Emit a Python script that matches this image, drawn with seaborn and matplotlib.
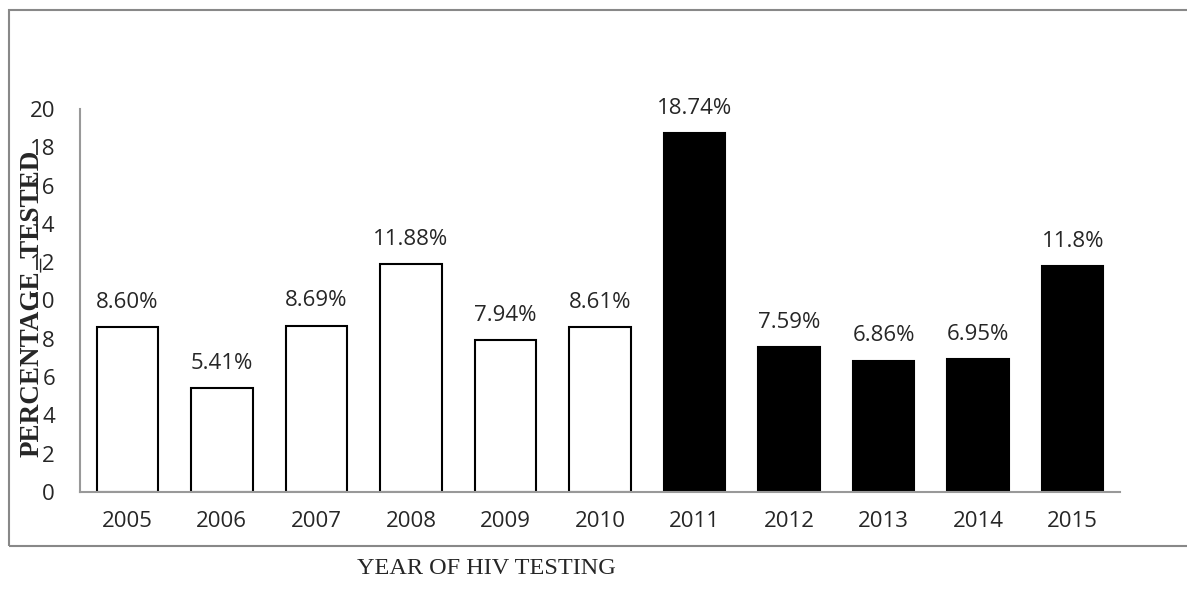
import matplotlib
matplotlib.use("Agg")
import matplotlib.pyplot as plt
import pandas as pd
import seaborn as sns
from matplotlib.patches import Rectangle

years = ["2005", "2006", "2007", "2008", "2009", "2010",
         "2011", "2012", "2013", "2014", "2015"]
pct = [8.60, 5.41, 8.69, 11.88, 7.94, 8.61, 18.74, 7.59, 6.86, 6.95, 11.8]
pct_labels = ["8.60%", "5.41%", "8.69%", "11.88%", "7.94%", "8.61%",
              "18.74%", "7.59%", "6.86%", "6.95%", "11.8%"]
period = ["early"] * 6 + ["late"] * 5

df = pd.DataFrame({"year": years, "pct": pct, "period": period})

sns.set_style("white")
plt.rcParams["font.family"] = ["Open Sans", "DejaVu Sans"]

fig = plt.figure(figsize=(11.87, 6.05), dpi=100)
ax = fig.add_axes([80 / 1187, 1 - 492 / 605, 1040 / 1187, 383 / 605])

sns.barplot(data=df, x="year", y="pct", hue="period",
            palette={"early": "white", "late": "black"},
            edgecolor="black", linewidth=1.5, width=0.65,
            dodge=False, legend=False, ax=ax)

for i, lab in enumerate(pct_labels):
    ax.text(i, pct[i] + 1.0, lab, ha="center", va="baseline", fontsize=16)

ax.set_ylim(0, 20)
ax.set_xlim(-0.5, 10.5)
ax.set_yticks(range(0, 21, 2))
ax.tick_params(axis="both", labelsize=16, length=0)
ax.tick_params(axis="y", pad=18)
ax.tick_params(axis="x", pad=14)
for s in ["top", "right"]:
    ax.spines[s].set_visible(False)
for s in ["left", "bottom"]:
    ax.spines[s].set_color("#999999")
    ax.spines[s].set_linewidth(1.5)
ax.set_xlabel("")
ax.set_ylabel("")

fig.text(32 / 1187, 1 - 303 / 605, "PERCENTAGE_TESTED", rotation=90,
         ha="center", va="center", fontsize=19.5, fontweight="bold",
         family="Liberation Serif", zorder=5)
fig.text(486 / 1187, 1 - 568 / 605, "YEAR OF HIV TESTING",
         ha="center", va="center", fontsize=17.5, family="Liberation Serif")

# outer chart-area border
fig.patches.append(Rectangle((9 / 1187, 1 - 546 / 605), 1.0, (546 - 10) / 605,
                             transform=fig.transFigure, fill=False,
                             edgecolor="#888888", linewidth=1.5))

fig.savefig("out.png", dpi=100)
